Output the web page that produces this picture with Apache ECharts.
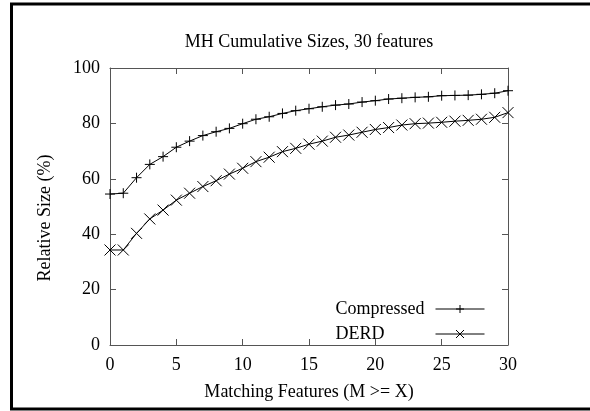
<!DOCTYPE html>
<html>
<head>
<meta charset="utf-8">
<script src="https://cdn.jsdelivr.net/npm/echarts@6/dist/echarts.min.js"></script>
<style>
  html, body { margin: 0; padding: 0; background: #fff; }
  #chart { width: 590px; height: 411px; }
</style>
</head>
<body>
<div id="chart"></div>
<script>
var matching = [0, 1, 2, 3, 4, 5, 6, 7, 8, 9, 10, 11, 12, 13, 14, 15, 16, 17, 18, 19, 20, 21, 22, 23, 24, 25, 26, 27, 28, 29, 30];
var compressed = [54.5, 54.8, 60.4, 65.2, 68.0, 71.4, 73.6, 75.6, 77.0, 78.2, 79.9, 81.5, 82.4, 83.6, 84.6, 85.3, 86.0, 86.6, 87.0, 87.7, 88.2, 88.8, 89.1, 89.4, 89.6, 90.0, 90.1, 90.2, 90.5, 90.9, 91.8];
var derd = [34.3, 34.3, 40.3, 45.5, 48.7, 52.3, 54.8, 57.2, 59.3, 61.7, 63.8, 66.2, 67.8, 69.8, 71.0, 72.5, 73.6, 75.0, 75.8, 76.8, 77.8, 78.5, 79.4, 79.9, 80.1, 80.4, 80.8, 81.1, 81.5, 82.2, 83.9];
var seriesNames = ['Compressed', 'DERD'];

var FONT = 'Liberation Serif';
var PLUS = 'path://M5,0L5,10M0,5L10,5';
var CROSS = 'path://M0,0L10,10M0,10L10,0';
var AXIS_COLOR = '#555';

function pairs(ys) {
    return matching.map(function(x, i){ return [x, ys[i]]; });
}

// bottom/left axes carry labels, top/right ones only mirror the ticks (gnuplot box)
function xAxisCfg(pos, showLabel) {
    return {
        type: 'value', position: pos, min: 0, max: 30, interval: 5,
        axisLine: { show: true, onZero: false, lineStyle: { color: AXIS_COLOR, width: 1 } },
        axisTick: { show: true, inside: true, length: 6, lineStyle: { color: AXIS_COLOR } },
        axisLabel: { show: showLabel, color: '#000', fontFamily: FONT, fontSize: 18, margin: 11 },
        splitLine: { show: false }
    };
}
function yAxisCfg(pos, showLabel) {
    return {
        type: 'value', position: pos, min: 0, max: 100, interval: 20,
        axisLine: { show: true, onZero: false, lineStyle: { color: AXIS_COLOR, width: 1 } },
        axisTick: { show: true, inside: true, length: 6, lineStyle: { color: AXIS_COLOR } },
        axisLabel: { show: showLabel, color: '#000', fontFamily: FONT, fontSize: 18, margin: 10 },
        splitLine: { show: false }
    };
}

var chart = echarts.init(document.getElementById('chart'));
chart.setOption({
    animation: false,
    backgroundColor: '#fff',
    grid: { left: 110, right: 82, top: 68, bottom: 66 },
    xAxis: [xAxisCfg('bottom', true), xAxisCfg('top', false)],
    yAxis: [yAxisCfg('left', true), yAxisCfg('right', false)],
    legend: {
        orient: 'vertical', align: 'right',
        right: 100, top: 295,
        itemWidth: 49, itemHeight: 10, itemGap: 7,
        lineStyle: { width: 1 },
        itemStyle: { borderWidth: 1 },
        // key text is left-justified in a fixed box, like gnuplot's key
        formatter: function(name){ return '{k|' + name + '}'; },
        textStyle: {
            color: '#000', fontFamily: FONT, fontSize: 18,
            rich: { k: { width: 95, align: 'left', color: '#000', fontFamily: FONT, fontSize: 18 } }
        },
        data: seriesNames
    },
    graphic: [
        { type: 'rect', shape: { x: 11.5, y: 4, width: 620, height: 405 },
          style: { fill: 'none', stroke: '#000', lineWidth: 3 }, silent: true },
        { type: 'text', x: 309, y: 42,
          style: { text: 'MH Cumulative Sizes, 30 features', fill: '#000', font: '18px "Liberation Serif"', align: 'center', verticalAlign: 'middle' } },
        { type: 'text', x: 309, y: 392,
          style: { text: 'Matching Features (M >= X)', fill: '#000', font: '18px "Liberation Serif"', align: 'center', verticalAlign: 'middle' } },
        { type: 'text', x: 45, y: 218, rotation: Math.PI / 2,
          style: { text: 'Relative Size (%)', fill: '#000', font: '18px "Liberation Serif"', align: 'center', verticalAlign: 'middle' } }
    ],
    series: [
        {
            name: seriesNames[0], type: 'line', data: pairs(compressed),
            symbol: PLUS, symbolSize: 10, showAllSymbol: true,
            itemStyle: { color: '#000', borderColor: '#000', borderWidth: 1 },
            lineStyle: { color: '#000', width: 1 }
        },
        {
            name: seriesNames[1], type: 'line', data: pairs(derd),
            symbol: CROSS, symbolSize: 11, showAllSymbol: true,
            itemStyle: { color: '#000', borderColor: '#000', borderWidth: 1 },
            lineStyle: { color: '#000', width: 1 }
        }
    ]
});
</script>
</body>
</html>
